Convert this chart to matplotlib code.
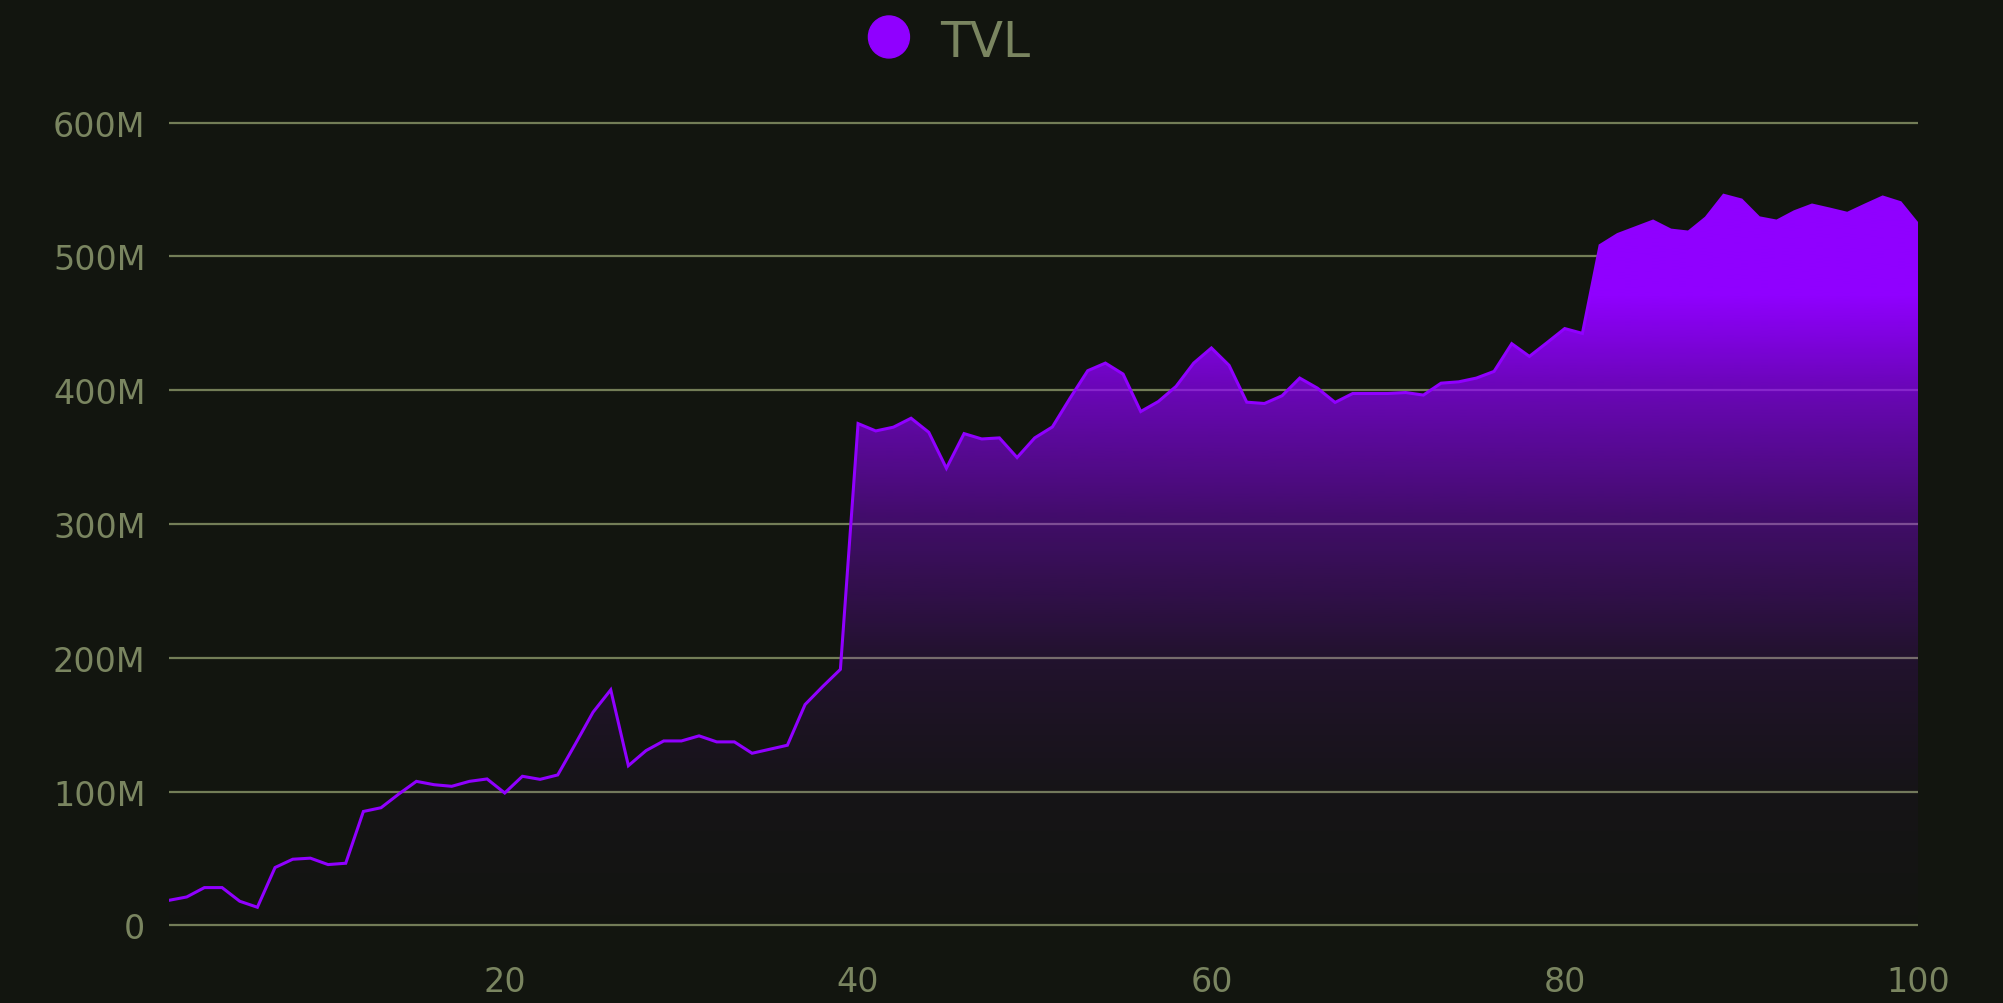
import numpy as np
import matplotlib
matplotlib.use("Agg")
import matplotlib.pyplot as plt
from matplotlib.patches import Ellipse
from matplotlib.ticker import FuncFormatter

BG_COLOR = "#12150f"
GRID_COLOR = "#737d57"
TEXT_COLOR = "#7a8560"
TVL_COLOR = "#9000ff"

# day index and TVL in millions
days = np.arange(1, 101)
tvl = [
    18.7, 21.2, 28.2, 28.2, 18.0, 13.5, 43.2, 49.4, 50.2, 45.4,
    46.4, 85.1, 87.9, 98.1, 107.6, 105.1, 103.9, 107.6, 109.4, 98.9,
    111.4, 109.1, 112.4, 135.6, 159.3, 176.0, 119.3, 130.6, 137.8, 137.8,
    141.6, 137.1, 137.1, 128.6, 131.6, 134.6, 165.0, 178.5, 191.3, 375.0,
    369.5, 372.3, 379.0, 368.5, 341.6, 367.5, 363.5, 364.3, 349.6, 364.3,
    372.5, 394.0, 414.5, 420.2, 412.0, 384.0, 391.5, 402.8, 420.2, 431.5,
    418.5, 391.0, 390.0, 395.8, 409.0, 401.5, 390.8, 397.5, 397.5, 397.5,
    398.2, 396.3, 405.2, 406.2, 409.0, 414.0, 434.7, 425.2, 435.5, 446.0,
    442.4, 508.1, 516.3, 521.3, 526.3, 519.6, 518.1, 528.8, 545.6, 542.1,
    528.8, 526.3, 533.3, 538.3, 535.3, 532.1, 538.3, 544.3, 540.1, 523.8,
]
y_ticks = [0, 100, 200, 300, 400, 500, 600]
x_ticks = [20, 40, 60, 80, 100]
series_name = "TVL"

fig = plt.figure(figsize=(20.03, 10.04), dpi=100)
fig.patch.set_facecolor(BG_COLOR)
ax = fig.add_axes([0.0844, 0.0707, 0.8732, 0.8196])
ax.set_facecolor(BG_COLOR)

ax.set_xlim(1, 100)
ax.set_ylim(-5, 610)

# gradient fill: opaque purple at the top, fading out towards zero
stops = [0, 100, 200, 300, 400, 470, 610]
alphas = [0.01, 0.035, 0.13, 0.37, 0.70, 1.0, 1.0]
yy = np.linspace(-5, 610, 600)
grad = np.zeros((len(yy), 1, 4))
grad[:, 0, :3] = matplotlib.colors.to_rgb(TVL_COLOR)
grad[:, 0, 3] = np.interp(yy, stops, alphas)

area = ax.fill_between(days, tvl, 0, facecolor="none", edgecolor="none")
im = ax.imshow(grad, extent=[1, 100, -5, 610], origin="lower",
               aspect="auto", zorder=2, interpolation="bilinear")
im.set_clip_path(area.get_paths()[0], transform=ax.transData)

ax.plot(days, tvl, color=TVL_COLOR, lw=2.2, zorder=3, solid_joinstyle="miter")

# grid + ticks
ax.set_yticks(y_ticks)
ax.set_xticks(x_ticks)
ax.yaxis.set_major_formatter(FuncFormatter(lambda v, _: "0" if v == 0 else f"{int(v)}M"))
ax.grid(axis="y", color=GRID_COLOR, lw=1.6, zorder=0.5)
ax.set_axisbelow(True)
ax.tick_params(axis="y", length=0, pad=17, labelsize=24, labelcolor=TEXT_COLOR)
ax.tick_params(axis="x", length=0, pad=24, labelsize=24, labelcolor=TEXT_COLOR)
for s in ax.spines.values():
    s.set_visible(False)

# legend drawn by hand at the top
fig.add_artist(Ellipse((0.4438, 0.9622), 0.02047, 0.0418,
                       transform=fig.transFigure, color=TVL_COLOR))
fig.text(0.4693, 0.943, series_name, color=TEXT_COLOR, fontsize=35,
         va="baseline", ha="left")

fig.savefig("out.png", dpi=100, facecolor=BG_COLOR)
